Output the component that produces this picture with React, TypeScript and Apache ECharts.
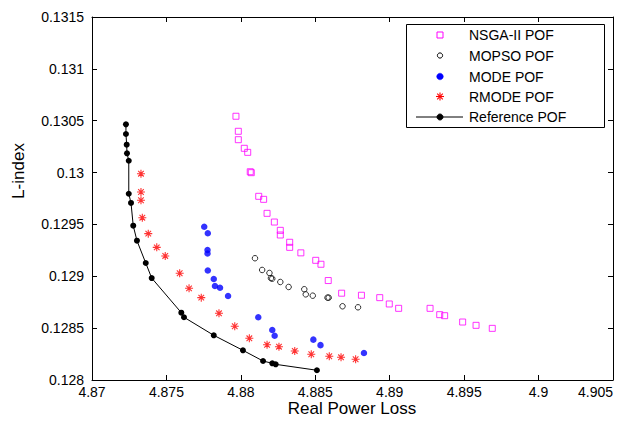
import React, { useEffect, useRef } from "react";
import * as echarts from "echarts";

const xTicks = { min: 4.87, max: 4.905, interval: 0.005 };
const yTicks = { min: 0.128, max: 0.1315, interval: 0.0005 };

const nsgaX = [4.87967, 4.87983, 4.87983, 4.88023, 4.88046, 4.88063, 4.8807, 4.8812, 4.88153, 4.88176, 4.88225, 4.88265, 4.88265, 4.88328, 4.88328, 4.88403, 4.88503, 4.88538, 4.88587, 4.88677, 4.8881, 4.88933, 4.88997, 4.8906, 4.89271, 4.89336, 4.89369, 4.8949, 4.8958, 4.89689];
const nsgaY = [0.130543, 0.130398, 0.130317, 0.130234, 0.130195, 0.130008, 0.129999, 0.129771, 0.129742, 0.129607, 0.129523, 0.129443, 0.129398, 0.129328, 0.129279, 0.129226, 0.129154, 0.129116, 0.128959, 0.128837, 0.128817, 0.128794, 0.128733, 0.128691, 0.128691, 0.12863, 0.12862, 0.128559, 0.128527, 0.128498];

const mopsoX = [4.88095, 4.88143, 4.88192, 4.88202, 4.88211, 4.88265, 4.88321, 4.88426, 4.88436, 4.88483, 4.88582, 4.8859, 4.88683, 4.88787];
const mopsoY = [0.129174, 0.129061, 0.129032, 0.128982, 0.128977, 0.128945, 0.128897, 0.128875, 0.128826, 0.128813, 0.128794, 0.128794, 0.128711, 0.128701];

const modeX = [4.87754, 4.87778, 4.87776, 4.87776, 4.87778, 4.87818, 4.87826, 4.8786, 4.87914, 4.88117, 4.88211, 4.88227, 4.88487, 4.88535, 4.88827];
const modeY = [0.129478, 0.129415, 0.129253, 0.12922, 0.129056, 0.128974, 0.128906, 0.12889, 0.12881, 0.128605, 0.128482, 0.128427, 0.128389, 0.128336, 0.12826];

const rmodeX = [4.87329, 4.87329, 4.87329, 4.87338, 4.87378, 4.87435, 4.87492, 4.87589, 4.87652, 4.87734, 4.87853, 4.87959, 4.88057, 4.88176, 4.88256, 4.88362, 4.88473, 4.88594, 4.88673, 4.88771];
const rmodeY = [0.129989, 0.129813, 0.129733, 0.129565, 0.129411, 0.129279, 0.129196, 0.129029, 0.128884, 0.128794, 0.128643, 0.128518, 0.128402, 0.12834, 0.128321, 0.12828, 0.128248, 0.128229, 0.128219, 0.1282];

const refX = [4.87228, 4.87228, 4.87233, 4.87235, 4.87247, 4.87247, 4.87262, 4.87277, 4.87302, 4.87361, 4.87401, 4.876, 4.87618, 4.87818, 4.88014, 4.88149, 4.88211, 4.88234, 4.88511];
const refY = [0.130465, 0.130372, 0.130269, 0.130186, 0.130114, 0.129796, 0.129707, 0.129488, 0.129343, 0.129128, 0.128983, 0.128649, 0.128605, 0.128431, 0.128286, 0.128183, 0.128161, 0.128151, 0.128094];

const legendNames = ["NSGA-II POF", "MOPSO POF", "MODE POF", "RMODE POF", "Reference POF"];
const xTitle = "Real Power Loss";
const yTitle = "L-index";

const FONT = "'Liberation Sans', Arial, Helvetica, sans-serif";
const ASTERISK = "path://M5 0L5 10M0 5L10 5M1.5 1.5L8.5 8.5M1.5 8.5L8.5 1.5";

const zip = (xs: number[], ys: number[]) => xs.map((x, i) => [x, ys[i]]);

export default function App() {
  const ref = useRef<HTMLDivElement>(null);
  useEffect(() => {
    if (!ref.current) return;
    const chart = echarts.init(ref.current, null, { renderer: "svg" });
    const axisCommon = {
      type: "value" as const,
      splitLine: { show: false },
      axisLine: { show: true, onZero: false, lineStyle: { color: "#000", width: 1 } },
      axisTick: { show: true, inside: true, length: 5, lineStyle: { color: "#000", width: 1 } },
    };
    const labelStyle = { color: "#000", fontSize: 14, lineHeight: 14, fontFamily: FONT };
    const LX = 406.5, LY = 24.5, LW = 198, LH = 103;
    const rows = [35, 55.5, 76.5, 96.5, 117];
    const symX = 440;
    const graphic: any[] = [
      { type: "rect", shape: { x: LX, y: LY, width: LW, height: LH }, style: { fill: "#fff", stroke: "#000", lineWidth: 1 }, z: 100 },
      { type: "rect", shape: { x: symX - 3, y: rows[0] - 3, width: 6, height: 6 }, style: { fill: "none", stroke: "#ff00ff", lineWidth: 1 }, z: 101 },
      { type: "circle", shape: { cx: symX, cy: rows[1], r: 2.6 }, style: { fill: "none", stroke: "#000", lineWidth: 1 }, z: 101 },
      { type: "circle", shape: { cx: symX, cy: rows[2], r: 3.3 }, style: { fill: "#0000ff", stroke: "#0000ff", lineWidth: 0.5 }, z: 101 },
      { type: "line", shape: { x1: symX - 4, y1: rows[3], x2: symX + 4, y2: rows[3] }, style: { stroke: "#ff0000", lineWidth: 1.1 }, z: 101 },
      { type: "line", shape: { x1: symX, y1: rows[3] - 4, x2: symX, y2: rows[3] + 4 }, style: { stroke: "#ff0000", lineWidth: 1.1 }, z: 101 },
      { type: "line", shape: { x1: symX - 2.8, y1: rows[3] - 2.8, x2: symX + 2.8, y2: rows[3] + 2.8 }, style: { stroke: "#ff0000", lineWidth: 1.1 }, z: 101 },
      { type: "line", shape: { x1: symX - 2.8, y1: rows[3] + 2.8, x2: symX + 2.8, y2: rows[3] - 2.8 }, style: { stroke: "#ff0000", lineWidth: 1.1 }, z: 101 },
      { type: "line", shape: { x1: 416, y1: rows[4], x2: 463, y2: rows[4] }, style: { stroke: "#000", lineWidth: 1 }, z: 101 },
      { type: "circle", shape: { cx: symX, cy: rows[4], r: 3 }, style: { fill: "#000", stroke: "#000" }, z: 101 },
      ...legendNames.map((n, i) => ({
        type: "text",
        x: 469,
        y: rows[i],
        style: { text: n, fill: "#000", fontSize: 14, fontFamily: FONT, align: "left", verticalAlign: "middle" },
        z: 101,
      })),
      {
        type: "text",
        x: 18,
        y: 171,
        rotation: Math.PI / 2,
        style: { text: yTitle, fill: "#000", fontSize: 17, lineHeight: 17, fontFamily: FONT, align: "center", verticalAlign: "middle" },
      },
      {
        type: "text",
        x: 352,
        y: 408,
        style: { text: xTitle, fill: "#000", fontSize: 17, lineHeight: 17, fontFamily: FONT, align: "center", verticalAlign: "middle" },
      },
    ];
    chart.setOption({
      animation: false,
      backgroundColor: "#fff",
      grid: { left: 92, top: 17, width: 521, height: 363, containLabel: false, outerBoundsMode: "none" },
      xAxis: [
        {
          ...axisCommon,
          ...xTicks,
          position: "bottom",
          axisLabel: {
            ...labelStyle,
            margin: 5,
            alignMaxLabel: "right",
            formatter: (v: number) => String(parseFloat(v.toFixed(3))),
          },
        },
        { ...axisCommon, ...xTicks, position: "top", axisLabel: { show: false } },
      ],
      yAxis: [
        {
          ...axisCommon,
          ...yTicks,
          position: "left",
          axisLabel: { ...labelStyle, margin: 8, formatter: (v: number) => String(parseFloat(v.toFixed(4))) },
        },
        { ...axisCommon, ...yTicks, position: "right", axisLabel: { show: false } },
      ],
      series: [
        {
          name: legendNames[0],
          type: "scatter",
          symbol: "rect",
          symbolSize: 6,
          itemStyle: { color: "transparent", borderColor: "#ff00ff", borderWidth: 1 },
          data: zip(nsgaX, nsgaY),
        },
        {
          name: legendNames[1],
          type: "scatter",
          symbol: "circle",
          symbolSize: 5.5,
          itemStyle: { color: "transparent", borderColor: "#000", borderWidth: 1 },
          data: zip(mopsoX, mopsoY),
        },
        {
          name: legendNames[2],
          type: "scatter",
          symbol: "circle",
          symbolSize: 6.5,
          itemStyle: { color: "#0000ff" },
          data: zip(modeX, modeY),
        },
        {
          name: legendNames[3],
          type: "scatter",
          symbol: ASTERISK,
          symbolSize: 8,
          itemStyle: { color: "transparent", borderColor: "#ff0000", borderWidth: 1.1 },
          data: zip(rmodeX, rmodeY),
        },
        {
          name: legendNames[4],
          type: "line",
          symbol: "circle",
          symbolSize: 6,
          showSymbol: true,
          itemStyle: { color: "#000" },
          lineStyle: { color: "#000", width: 1 },
          data: zip(refX, refY),
        },
      ],
      graphic,
    });
    return () => chart.dispose();
  }, []);
  return <div ref={ref} style={{ position: "fixed", left: 0, top: 0, width: 628, height: 423 }} />;
}
